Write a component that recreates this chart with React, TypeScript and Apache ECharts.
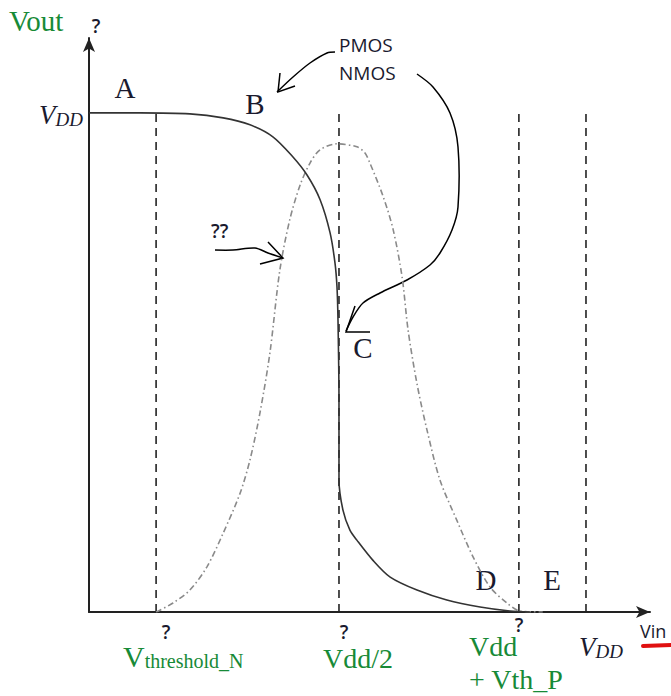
import React, { useEffect, useRef } from "react";
import * as echarts from "echarts";

// Vin in units of VDD (x), Vout in units of VDD (y)
const vtcVin = [0, 0.103, 0.203, 0.27, 0.324, 0.37, 0.41, 0.439, 0.465, 0.485, 0.495, 0.499, 0.501, 0.503, 0.503, 0.511, 0.525, 0.539, 0.571, 0.606, 0.66, 0.72, 0.787, 0.847, 0.887];
const vtcVout = [1, 1, 0.998, 0.99, 0.976, 0.952, 0.912, 0.875, 0.826, 0.76, 0.699, 0.651, 0.585, 0.425, 0.265, 0.204, 0.164, 0.144, 0.104, 0.07, 0.044, 0.024, 0.01, 0.002, 0];

const curVin = [0.135, 0.169, 0.203, 0.237, 0.27, 0.304, 0.324, 0.344, 0.364, 0.384, 0.404, 0.425, 0.445, 0.465, 0.499, 0.539, 0.555, 0.565, 0.592, 0.612, 0.63, 0.642, 0.66, 0.68, 0.706, 0.74, 0.773, 0.807, 0.841, 0.867, 0.913];
const curVal = [0, 0.018, 0.044, 0.09, 0.158, 0.238, 0.305, 0.399, 0.519, 0.685, 0.786, 0.856, 0.9, 0.926, 0.938, 0.932, 0.92, 0.9, 0.832, 0.766, 0.671, 0.565, 0.457, 0.365, 0.265, 0.184, 0.11, 0.05, 0.018, 0.002, 0];

const markerVin = [0.135, 0.503, 0.865, 1.0];
const vddLevel = 1;

const GREEN = "#178a37";
const SERIF = "'Liberation Serif', 'DejaVu Serif', serif";
const SANS = "'Open Sans', 'Noto Sans', sans-serif";
const INK = "#1a1a2e";

export default function App() {
  const ref = useRef<HTMLDivElement>(null);
  useEffect(() => {
    if (!ref.current) return;
    document.body.style.margin = "0";
    const chart = echarts.init(ref.current, undefined, { renderer: "svg" });
    const zip = (a: number[], b: number[]) => a.map((v, i) => [v, b[i]]);
    const markerSeries = markerVin.map((x, i) => ({
      type: "line",
      name: "m" + i,
      data: [[x, 0], [x, vddLevel]],
      symbol: "none",
      lineStyle: { color: "#222", width: 1.6, type: [8, 6] },
      silent: true,
    }));
    const txt = (x: number, y: number, text: string, size: number, opts: any = {}) => ({
      type: "text",
      x,
      y,
      style: {
        text,
        fontSize: size,
        fontFamily: opts.family || SERIF,
        fontWeight: opts.weight || "normal",
        fill: opts.fill || INK,
        align: opts.align || "center",
        verticalAlign: opts.va || "middle",
        fontStyle: opts.italic ? "italic" : "normal",
        ...(opts.rich ? { rich: opts.rich } : {}),
      },
    });
    const pl = (pts: number[][], w = 1.5) => ({
      type: "polyline",
      shape: { points: pts, smooth: 0.3 },
      style: { stroke: "#000", lineWidth: w, fill: "none" },
    });
    const plS = (pts: number[][], w = 1.5) => ({
      type: "polyline",
      shape: { points: pts },
      style: { stroke: "#000", lineWidth: w, fill: "none" },
    });
    const vddRich = {
      v: { fontSize: 27, fontStyle: "italic", fontFamily: SERIF, fill: INK, verticalAlign: "bottom" },
      s: { fontSize: 19, fontStyle: "italic", fontFamily: SERIF, fill: INK, verticalAlign: "bottom" },
    };
    const q = { family: SANS, weight: 600 };
    chart.setOption({
      animation: false,
      grid: { left: 89, right: 21, top: 38, bottom: 84 },
      xAxis: {
        type: "value",
        min: 0,
        max: 1.1288,
        axisLine: { show: true, symbol: ["none", "arrow"], symbolSize: [9, 14], lineStyle: { color: "#222", width: 2 } },
        axisTick: { show: false },
        axisLabel: { show: false },
        splitLine: { show: false },
      },
      yAxis: {
        type: "value",
        min: 0,
        max: 1.15,
        axisLine: { show: true, symbol: ["none", "arrow"], symbolSize: [9, 14], lineStyle: { color: "#222", width: 2 } },
        axisTick: { show: false },
        axisLabel: { show: false },
        splitLine: { show: false },
      },
      series: [
        ...markerSeries,
        {
          type: "line",
          name: "current",
          data: zip(curVin, curVal),
          symbol: "none",
          smooth: 0.3,
          lineStyle: { color: "#8a8a8a", width: 1.6, type: [6, 3, 1.5, 3] },
        },
        {
          type: "line",
          name: "vtc",
          data: zip(vtcVin, vtcVout),
          symbol: "none",
          smooth: 0.3,
          lineStyle: { color: "#333", width: 1.6 },
        },
      ],
      graphic: [
        txt(9, 21, "Vout", 29, { fill: GREEN, align: "left" }),
        txt(96, 26, "?", 19, q),
        txt(83, 115, "{v|V}{s|DD}", 27, { align: "right", rich: vddRich }),
        txt(125, 88, "A", 29),
        txt(255, 104, "B", 29),
        txt(363, 348, "C", 29),
        txt(486, 580, "D", 29),
        txt(552, 580, "E", 29),
        txt(339, 45, "PMOS", 19, { family: SANS, align: "left" }),
        txt(339, 73, "NMOS", 19, { family: SANS, align: "left" }),
        txt(211, 231, "??", 19, { ...q, align: "left" }),
        txt(166, 632, "?", 19, q),
        txt(344, 632, "?", 19, q),
        txt(519, 625, "?", 19, q),
        txt(123, 671, "{v|V}{s|threshold_N}", 20, {
          align: "left",
          va: "bottom",
          rich: {
            v: { fontSize: 30, fontFamily: SERIF, fill: GREEN, verticalAlign: "bottom" },
            s: { fontSize: 20, fontFamily: SERIF, fill: GREEN, verticalAlign: "bottom" },
          },
        }),
        txt(323, 658, "Vdd/2", 28, { fill: GREEN, align: "left" }),
        txt(469, 646, "Vdd", 28, { fill: GREEN, align: "left" }),
        txt(469, 679, "+ Vth_P", 28, { fill: GREEN, align: "left" }),
        txt(579, 647, "{v|V}{s|DD}", 27, { align: "left", rich: vddRich }),
        txt(640, 631, "Vin", 18, { family: SANS, align: "left" }),
        {
          type: "line",
          shape: { x1: 643, y1: 646, x2: 671, y2: 645 },
          style: { stroke: "#e01010", lineWidth: 4, lineCap: "round" },
        },
        // PMOS arrow
        pl([[335, 52], [327, 53], [310, 63], [293, 77], [277, 92]]),
        plS([[280, 73], [278, 92], [295, 86]]),
        // NMOS arrow
        pl([[417, 74], [433, 87], [450, 113], [458, 147], [458, 207], [452, 230], [440, 253], [430, 265], [407, 280], [380, 293], [363, 303], [353, 317], [346, 331]]),
        plS([[355, 306], [346, 332], [370, 332]]),
        // ?? arrow
        pl([[215, 250], [233, 250], [255, 248], [268, 253], [283, 258]]),
        plS([[268, 242], [283, 258], [260, 264]]),
      ],
    });
    return () => chart.dispose();
  }, []);
  return <div ref={ref} style={{ width: 671, height: 696 }} />;
}
